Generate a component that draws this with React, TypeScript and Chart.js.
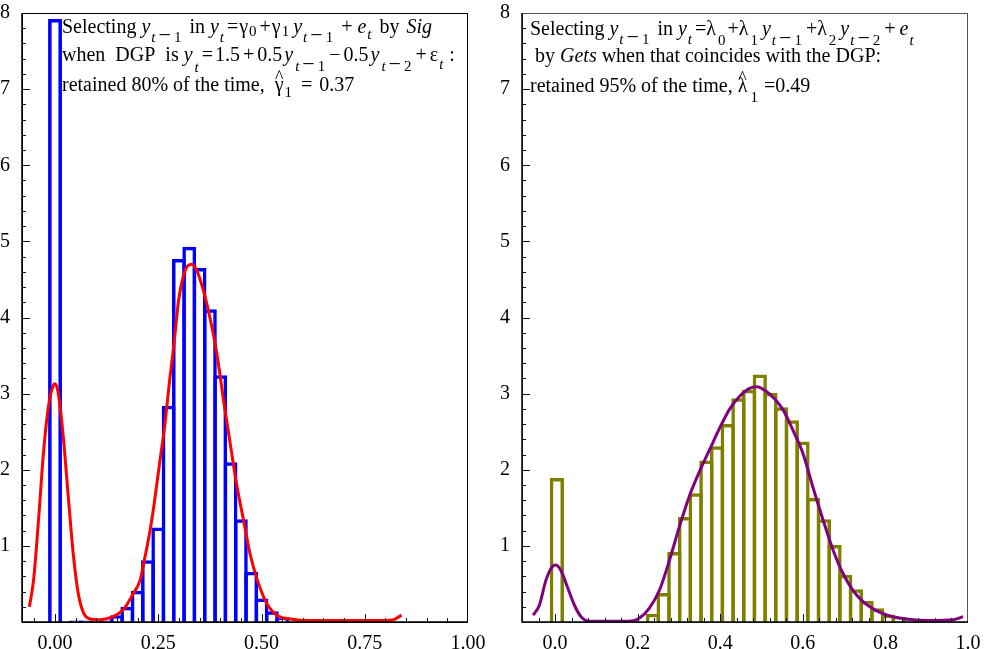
import React, { useEffect, useRef } from "react";
import { Chart, registerables } from "chart.js";
Chart.register(...registerables);

const X_MIN = -0.08;
const X_MAX = 1.0;
const Y_MIN = 0;
const Y_MAX = 8;
const Y_TICKS = [1, 2, 3, 4, 5, 6, 7, 8];

// ---------- left panel (Sig) ----------
const LEFT_BIN_CENTERS = [0, 0.05, 0.075, 0.125, 0.15, 0.175, 0.2, 0.225, 0.25, 0.275, 0.3, 0.325, 0.35, 0.375, 0.4, 0.425, 0.45, 0.475, 0.5, 0.525, 0.55, 0.575];
const LEFT_BIN_HEIGHTS = [7.92, 0.02, 0.02, 0.02, 0.09, 0.2, 0.41, 0.81, 1.24, 2.84, 4.77, 4.93, 4.65, 4.11, 3.24, 2.1, 1.35, 0.66, 0.31, 0.14, 0.05, 0.01];
const LEFT_CURVE_X = [-0.062, -0.052, -0.04, -0.028, -0.016, -0.004, 0.0, 0.008, 0.02, 0.032, 0.044, 0.056, 0.069, 0.085, 0.11, 0.14, 0.165, 0.19, 0.206, 0.215, 0.23, 0.24, 0.254, 0.265, 0.278, 0.288, 0.299, 0.311, 0.32, 0.33, 0.343, 0.359, 0.375, 0.392, 0.407, 0.424, 0.44, 0.456, 0.472, 0.49, 0.513, 0.54, 0.57, 0.62, 0.7, 0.8, 0.82, 0.839];
const LEFT_CURVE_Y = [0.2, 0.55, 1.34, 2.22, 2.83, 3.11, 3.13, 3.0, 2.43, 1.65, 0.9, 0.38, 0.12, 0.04, 0.03, 0.07, 0.16, 0.38, 0.55, 0.78, 1.2, 1.55, 2.12, 2.55, 3.2, 3.65, 4.22, 4.55, 4.67, 4.7, 4.62, 4.36, 4.0, 3.52, 2.95, 2.35, 1.8, 1.35, 0.9, 0.55, 0.24, 0.08, 0.04, 0.02, 0.02, 0.02, 0.03, 0.09];
const LEFT_X_TICKS = [0, 0.25, 0.5, 0.75, 1.0];

// ---------- right panel (Gets) ----------
const RIGHT_BIN_CENTERS = [0.0044, 0.2372, 0.263, 0.2889, 0.3147, 0.3406, 0.3665, 0.3923, 0.4182, 0.4441, 0.4699, 0.4958, 0.5216, 0.5475, 0.5734, 0.5992, 0.6251, 0.651, 0.6768, 0.7027, 0.7285, 0.7544, 0.7803, 0.8061, 0.832, 0.8578, 0.8837, 0.9096];
const RIGHT_BIN_HEIGHTS = [1.89, 0.11, 0.38, 0.92, 1.38, 1.69, 2.12, 2.31, 2.6, 2.94, 3.05, 3.25, 3.01, 2.82, 2.65, 2.37, 1.63, 1.35, 1.01, 0.62, 0.43, 0.28, 0.18, 0.1, 0.07, 0.03, 0.02, 0.02];
const RIGHT_CURVE_X = [-0.053, -0.038, -0.022, -0.006, 0.002, 0.014, 0.03, 0.047, 0.063, 0.083, 0.13, 0.18, 0.204, 0.228, 0.253, 0.277, 0.301, 0.325, 0.35, 0.374, 0.398, 0.422, 0.446, 0.471, 0.489, 0.511, 0.53, 0.552, 0.576, 0.6, 0.624, 0.649, 0.673, 0.697, 0.721, 0.745, 0.778, 0.81, 0.851, 0.907, 0.964, 0.988];
const RIGHT_CURVE_Y = [0.09, 0.22, 0.55, 0.73, 0.75, 0.68, 0.46, 0.22, 0.07, 0.01, 0.01, 0.01, 0.05, 0.18, 0.42, 0.81, 1.25, 1.65, 1.98, 2.26, 2.54, 2.79, 2.96, 3.07, 3.09, 3.03, 2.94, 2.79, 2.52, 2.22, 1.78, 1.34, 0.95, 0.64, 0.42, 0.27, 0.15, 0.08, 0.04, 0.02, 0.03, 0.07];
const RIGHT_X_TICKS = [0, 0.2, 0.4, 0.6, 0.8, 1.0];

const FONT = '"Liberation Serif", "Times New Roman", Times, serif';

// text pieces: k = r (roman), i (italic), s (small roman), si (small italic), m (sub-level minus); g = gap before
type Seg = { t: string; k: "r" | "i" | "s" | "si" | "m"; g: number; dy?: number; hat?: boolean };
const R = (t: string, g = 0): Seg => ({ t, k: "r", g });
const I = (t: string, g = 0): Seg => ({ t, k: "i", g });
const S = (t: string, dy: number, g = 0): Seg => ({ t, k: "s", dy, g });
const SI = (t: string, dy: number, g = 1): Seg => ({ t, k: "si", dy, g });
const M = (dy: number): Seg => ({ t: "\u2212", k: "m", dy, g: 0 });
const H = (t: string, g = 0): Seg => ({ t, k: "r", hat: true, g });

const LEFT_TEXT: Seg[][] = [
  [R("Selecting "), I("y"), SI("t", 9), M(9), S("1", 9), R(" in ", 3), I("y"), SI("t", 9), R("=", 3), R("\u03b3", 1), S("0", 3, 1), R("+", 3), R("\u03b3", 1), S("1", 3, 1), I("y", 4), SI("t", 9), M(9), S("1", 9), R(" + ", 3), I("e"), SI("t", 6), R(" by ", 3), I("Sig", 2)],
  [R("when  DGP  is "), I("y"), SI("t", 11, 2), R("=", 3), R("1.5", 2), R("+", 3), R("0.5", 3), I("y", 2), SI("t", 10, 2), M(10), S("1", 10), R("\u2212", 4), R("0.5", 3), I("y", 2), SI("t", 10, 2), M(10), S("2", 10), R("+", 4), R("\u03b5", 3), SI("t", 8, 1), R(" :", 1)],
  [R("retained 80% of the time, "), H("\u03b3", 5), S("1", 6, 1), R("=", 9), R("0.37", 7)],
];
const RIGHT_TEXT: Seg[][] = [
  [R("Selecting "), I("y"), SI("t", 9), M(9), S("1", 9), R(" in ", 3), I("y"), SI("t", 9), R("=", 3), R("\u03bb"), S("0", 10, 2), R("+", 2), R("\u03bb"), S("1", 10, 2), I("y", 4), SI("t", 10), M(10), S("1", 10), R("+", 4), R("\u03bb"), S("2", 10, 2), I("y", 4), SI("t", 10), M(10), S("2", 10), R("+", 4), I("e", 4), SI("t", 10)],
  [R(" by "), I("Gets"), R(" when that coincides with the DGP:")],
  [R("retained 95% of the time, "), H("\u03bb"), S("1", 10, 3), R("=", 6), R("0.49")],
];

type Spec = {
  binX: number[];
  binY: number[];
  curveX: number[];
  curveY: number[];
  barColor: string;
  curveColor: string;
  xTicks: number[];
  xDec: number;
  xMinorStep: number;
  yAxisWidth: number;
  padRight: number;
  text: Seg[][];
  textX: number;
  baselines: number[];
  frameColor: string;
};

function drawRich(ctx: CanvasRenderingContext2D, x0: number, y: number, segs: Seg[]) {
  let x = x0;
  for (const s of segs) {
    x += s.g;
    const small = s.k === "s" || s.k === "si";
    const italic = s.k === "i" || s.k === "si";
    const size = small ? 15 : s.k === "m" ? 22 : 20;
    ctx.font = `${italic ? "italic " : ""}${size}px ${FONT}`;
    const pad = s.k === "m" ? 3 : 0;
    x += pad;
    const w = ctx.measureText(s.t).width;
    ctx.fillText(s.t, x, y + (s.dy || 0));
    if (s.hat) {
      ctx.font = `18px ${FONT}`;
      const hw = ctx.measureText("^").width;
      ctx.fillText("^", x + w / 2 - hw / 2, y - 8);
    }
    x += w + pad;
  }
}

function decorPlugin(spec: Spec) {
  return {
    id: "decor",
    afterDraw(chart: any) {
      const { ctx, chartArea: a, scales } = chart;
      const xs = scales.x;
      const ys = scales.y;
      ctx.save();
      ctx.strokeStyle = spec.frameColor;
      ctx.lineWidth = 1;
      ctx.strokeRect(a.left + 0.5, a.top + 0.5, a.right - a.left - 1, a.bottom - a.top);
      ctx.strokeStyle = "#000";
      ctx.lineWidth = 1.5;
      ctx.beginPath();
      ctx.moveTo(a.left, a.top);
      ctx.lineTo(a.left, a.bottom);
      ctx.lineTo(a.right, a.bottom);
      ctx.stroke();
      ctx.lineWidth = 1;
      ctx.strokeStyle = "#111";
      ctx.beginPath();
      for (let i = 1; i < 40; i++) {
        const v = i * 0.2;
        const py = Math.round(ys.getPixelForValue(v)) + 0.5;
        const major = i % 5 === 0;
        ctx.moveTo(a.left, py);
        ctx.lineTo(a.left + (major ? 8 : 4), py);
      }
      for (let i = -3; i * spec.xMinorStep < X_MAX - 1e-9; i++) {
        const v = i * spec.xMinorStep;
        if (v < X_MIN) continue;
        const px = Math.round(xs.getPixelForValue(v)) + 0.5;
        const major = spec.xTicks.some((t) => Math.abs(t - v) < 1e-6);
        ctx.moveTo(px, a.bottom);
        ctx.lineTo(px, a.bottom - (major ? 8 : 4));
      }
      ctx.stroke();
      ctx.fillStyle = "#000";
      ctx.textBaseline = "alphabetic";
      ctx.textAlign = "left";
      spec.text.forEach((line, i) => drawRich(ctx, spec.textX, spec.baselines[i], line));
      ctx.restore();
    },
  };
}

function buildConfig(spec: Spec): any {
  const tickFont = { family: FONT, size: 20 };
  return {
    type: "bar",
    data: {
      datasets: [
        {
          type: "line",
          data: spec.curveX.map((x, i) => ({ x, y: spec.curveY[i] })),
          borderColor: spec.curveColor,
          borderWidth: 3,
          pointRadius: 0,
          fill: false,
          cubicInterpolationMode: "monotone",
          order: 0,
        },
        {
          type: "bar",
          data: spec.binX.map((x, i) => ({ x, y: spec.binY[i] })),
          backgroundColor: "rgba(0,0,0,0)",
          borderColor: spec.barColor,
          borderWidth: 3.5,
          barPercentage: 1.34,
          categoryPercentage: 1,
          grouped: false,
          order: 1,
        },
      ],
    },
    options: {
      responsive: false,
      animation: false,
      devicePixelRatio: 1,
      layout: { padding: { left: 0, top: 13, right: spec.padRight, bottom: 0 } },
      plugins: { legend: { display: false }, tooltip: { enabled: false } },
      scales: {
        x: {
          type: "linear",
          min: X_MIN,
          max: X_MAX,
          offset: false,
          grid: { display: false, offset: false },
          border: { display: false },
          afterBuildTicks: (s: any) => {
            s.ticks = spec.xTicks.map((v) => ({ value: v }));
          },
          afterFit: (s: any) => {
            s.height = 27;
            s.paddingLeft = 0;
            s.paddingRight = 0;
          },
          ticks: {
            font: tickFont,
            color: "#000",
            padding: 2,
            maxRotation: 0,
            autoSkip: false,
            callback: (v: any) => Number(v).toFixed(spec.xDec),
          },
        },
        y: {
          type: "linear",
          min: Y_MIN,
          max: Y_MAX,
          grid: { display: false },
          border: { display: false },
          afterBuildTicks: (s: any) => {
            s.ticks = Y_TICKS.map((v) => ({ value: v }));
          },
          afterFit: (s: any) => {
            s.width = spec.yAxisWidth;
            s.paddingTop = 0;
            s.paddingBottom = 0;
          },
          ticks: { font: tickFont, color: "#000", padding: 4, callback: (v: any) => String(v) },
        },
      },
    },
    plugins: [decorPlugin(spec)],
  };
}

const LEFT_SPEC: Spec = {
  binX: LEFT_BIN_CENTERS,
  binY: LEFT_BIN_HEIGHTS,
  curveX: LEFT_CURVE_X,
  curveY: LEFT_CURVE_Y,
  barColor: "#0000ff",
  curveColor: "#ff0000",
  xTicks: LEFT_X_TICKS,
  xDec: 2,
  xMinorStep: 0.05,
  yAxisWidth: 22,
  padRight: 22,
  text: LEFT_TEXT,
  textX: 62,
  baselines: [33, 61, 91],
  frameColor: "#000",
};

const RIGHT_SPEC: Spec = {
  binX: RIGHT_BIN_CENTERS,
  binY: RIGHT_BIN_HEIGHTS,
  curveX: RIGHT_CURVE_X,
  curveY: RIGHT_CURVE_Y,
  barColor: "#808000",
  curveColor: "#800080",
  xTicks: RIGHT_X_TICKS,
  xDec: 1,
  xMinorStep: 0.04,
  yAxisWidth: 32,
  padRight: 19,
  text: RIGHT_TEXT,
  textX: 40,
  baselines: [35, 62, 92],
  frameColor: "#555",
};

function Panel({ spec, left, width }: { spec: Spec; left: number; width: number }) {
  const ref = useRef<HTMLCanvasElement>(null);
  useEffect(() => {
    const chart = new Chart(ref.current as HTMLCanvasElement, buildConfig(spec));
    return () => chart.destroy();
  }, [spec]);
  return (
    <canvas
      ref={ref}
      width={width}
      height={649}
      style={{ position: "absolute", left, top: 0, width, height: 649, display: "block" }}
    />
  );
}

export default function App() {
  return (
    <div style={{ position: "fixed", left: 0, top: 0, width: 987, height: 649, background: "#fff" }}>
      <Panel spec={LEFT_SPEC} left={0} width={490} />
      <Panel spec={RIGHT_SPEC} left={490} width={497} />
    </div>
  );
}
